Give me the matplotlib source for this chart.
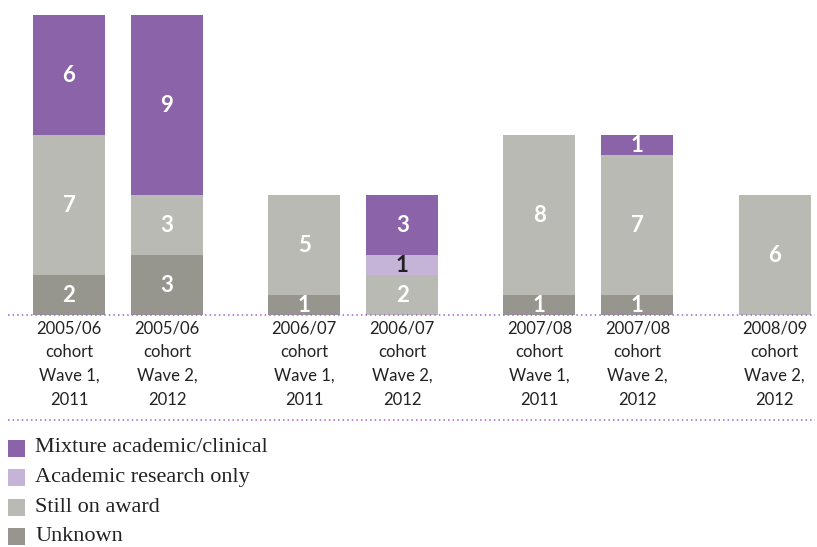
import numpy as np
import matplotlib.pyplot as plt
from matplotlib.patches import Rectangle

# cohorts along the x axis
labels = ["2005/06\ncohort\nWave 1,\n2011", "2005/06\ncohort\nWave 2,\n2012",
          "2006/07\ncohort\nWave 1,\n2011", "2006/07\ncohort\nWave 2,\n2012",
          "2007/08\ncohort\nWave 1,\n2011", "2007/08\ncohort\nWave 2,\n2012",
          "2008/09\ncohort\nWave 2,\n2012"]
pos = np.array([0, 1, 2.4, 3.4, 4.8, 5.8, 7.2])

# counts per outcome, stacked bottom to top
unknown = [2, 3, 1, 0, 1, 1, 0]
still_on_award = [7, 3, 5, 2, 8, 7, 6]
academic_only = [0, 0, 0, 1, 0, 0, 0]
mixture = [6, 9, 0, 3, 0, 1, 0]

series = [("Unknown", unknown, "#96968f", "white"),
          ("Still on award", still_on_award, "#babab4", "white"),
          ("Academic research only", academic_only, "#c5b3d8", "#222222"),
          ("Mixture academic/clinical", mixture, "#8b63a8", "white")]

fig = plt.figure(figsize=(8.17, 5.47), dpi=100)
ax = fig.add_axes([0, 1 - 315 / 547, 1, 300 / 547])

bottom = np.zeros(len(pos))
for name, vals, col, tcol in series:
    vals = np.array(vals)
    ax.bar(pos, vals, width=0.735, bottom=bottom, color=col, linewidth=0)
    for x, b, v in zip(pos, bottom, vals):
        if v > 0:
            ax.text(x, b + v / 2, str(v), ha="center", va="center",
                    color=tcol, fontsize=16, fontweight="bold", family="Lato")
    bottom += vals

ax.set_xlim(-69 / 98, (817 - 69) / 98)
ax.set_ylim(0, 15)
ax.axis("off")

# dotted rules above and below the category labels
for ypx in (315, 420):
    fig.add_artist(plt.Line2D([8 / 817, 815 / 817], [1 - ypx / 547] * 2,
                              color="#9a66c8", linestyle=(0, (1, 2)), linewidth=1.1))

for x, lab in zip(pos, labels):
    xf = (69 + x * 98) / 817
    fig.text(xf, 1 - 320 / 547, lab, ha="center", va="top", fontsize=12,
             family="Lato", color="#222222", linespacing=1.62)

# legend drawn by hand
legend_items = [series[3], series[2], series[1], series[0]]
for i, (name, vals, col, tcol) in enumerate(legend_items):
    yc = 448 + i * 29.5
    fig.add_artist(Rectangle((8 / 817, 1 - (yc + 8.5) / 547), 17 / 817, 17 / 547,
                             color=col, transform=fig.transFigure, linewidth=0))
    fig.text(35 / 817, 1 - yc / 547, name, ha="left", va="center", fontsize=16,
             family="Liberation Serif", color="#222222")

fig.savefig("out.png", dpi=100)
